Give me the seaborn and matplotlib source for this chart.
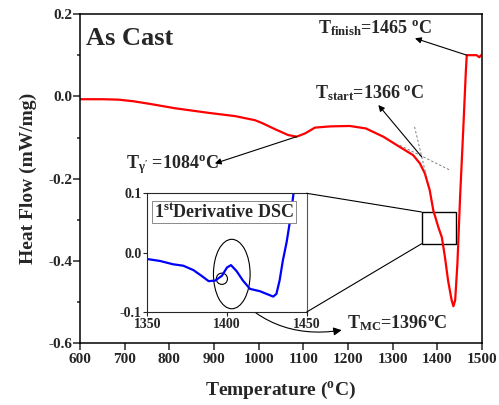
import numpy as np
import pandas as pd
import matplotlib
matplotlib.use("Agg")
import matplotlib.pyplot as plt
from matplotlib.patches import Ellipse, Rectangle, ConnectionPatch
import seaborn as sns

# DSC heat flow, as cast sample
temp = [600, 650, 686, 720, 760, 813, 887, 947, 992, 1010, 1037, 1066, 1085, 1104, 1126,
        1160, 1204, 1240, 1279, 1316, 1346, 1361, 1372, 1383, 1391, 1402, 1410, 1417,
        1424, 1432, 1436, 1440, 1445, 1451, 1458, 1464, 1466, 1488, 1494, 1498]
heat_flow = [-0.007, -0.007, -0.008, -0.012, -0.019, -0.029, -0.040, -0.048, -0.058, -0.066,
             -0.080, -0.094, -0.098, -0.090, -0.076, -0.073, -0.072, -0.078, -0.098,
             -0.123, -0.143, -0.163, -0.187, -0.228, -0.277, -0.317, -0.342, -0.390,
             -0.447, -0.495, -0.510, -0.495, -0.406, -0.244, -0.082, 0.064, 0.100,
             0.100, 0.095, 0.100]

# 1st derivative (inset)
temp_d = [1350.6, 1358, 1366, 1372.6, 1379, 1384, 1388.5, 1392.6, 1396.8, 1400, 1402.5,
          1406, 1410, 1414.4, 1420.7, 1429, 1431, 1433, 1435, 1437.5, 1439.5, 1441.6, 1443]
deriv = [-0.011, -0.014, -0.0195, -0.022, -0.0295, -0.039, -0.048, -0.047, -0.039, -0.025,
         -0.021, -0.031, -0.047, -0.061, -0.065, -0.074, -0.0695, -0.047, -0.014, 0.019,
         0.053, 0.097, 0.12]

# onset tangents
tan1_t, tan1_hf = [1316, 1428], [-0.119, -0.179]
tan2_t, tan2_hf = [1349, 1376], [-0.074, -0.196]

sns.set_style("ticks")
plt.rcParams["font.family"] = ["Liberation Serif", "DejaVu Serif"]
plt.rcParams["font.weight"] = "bold"
plt.rcParams["mathtext.default"] = "regular"
plt.rcParams["axes.unicode_minus"] = False

fig = plt.figure(figsize=(4.99, 4.05), dpi=100)
ax = fig.add_axes([0.1603, 0.1523, 0.8056, 0.8131])

df = pd.DataFrame({"T": temp, "HF": heat_flow})
sns.lineplot(data=df, x="T", y="HF", ax=ax, color="#ff0000", lw=1.6)
ax.plot(tan1_t, tan1_hf, ls="--", color="gray", lw=0.7, dashes=(2.5, 2))
ax.plot(tan2_t, tan2_hf, ls="--", color="gray", lw=0.7, dashes=(2.5, 2))

ax.set_xlim(600, 1500)
ax.set_ylim(-0.6, 0.2)
ax.set_xticks(np.arange(600, 1501, 100))
ax.set_yticks(np.arange(-0.6, 0.21, 0.2))
ax.set_yticks(np.arange(-0.5, 0.2, 0.2), minor=True)
ax.yaxis.set_major_formatter(matplotlib.ticker.FormatStrFormatter("%.1f"))
ax.tick_params(axis="both", which="major", labelsize=11, length=5, width=1.1, direction="out")
ax.tick_params(axis="y", which="minor", length=2.5, width=1.1, direction="out")
ax.tick_params(axis="y", pad=0.5)
ax.tick_params(axis="x", pad=2)
plt.setp(ax.get_xticklabels() + ax.get_yticklabels(), fontweight="bold")
for s in ax.spines.values():
    s.set_linewidth(1.1)
    s.set_color("black")
ax.set_xlabel(r"Temperature ($^{o}$C)", fontsize=14, fontweight="bold", labelpad=10)
ax.set_ylabel("Heat Flow (mW/mg)", fontsize=14, fontweight="bold", labelpad=8)

ax.text(613, 0.1246, "As Cast", fontsize=19, fontweight="bold")

arrow = dict(arrowstyle="-|>", color="black", lw=0.8, mutation_scale=9, shrinkA=0, shrinkB=0)
ax.text(1133, 0.153, r"T$_{finish}$=1465 $^{o}$C", fontsize=13)
ax.annotate("", xy=(1350, 0.141), xytext=(1466, 0.100), arrowprops=arrow)
ax.text(1126, -0.005, r"T$_{start}$=1366 $^{o}$C", fontsize=13)
ax.annotate("", xy=(1268, -0.021), xytext=(1365, -0.147), arrowprops=arrow)
ax.text(703, -0.175, r"T$_{γ'}$ =1084$^{o}$C", fontsize=13)
ax.annotate("", xy=(902, -0.163), xytext=(1085, -0.098), arrowprops=arrow)
ax.text(1197, -0.564, r"T$_{MC}$=1396$^{o}$C", fontsize=13)

# zoom box on main curve
ax.add_patch(Rectangle((1365, -0.358), 77, 0.077, fill=False, lw=1.0, ec="black"))

# inset
ins = fig.add_axes([0.2952, 0.2296, 0.3194, 0.2931])
sns.lineplot(x=temp_d, y=deriv, ax=ins, color="#0000ff", lw=1.6)
ins.set_xlim(1350, 1450)
ins.set_ylim(-0.1, 0.1)
ins.set_xticks([1350, 1400, 1450])
ins.set_yticks([-0.1, 0.0, 0.1])
ins.yaxis.set_major_formatter(matplotlib.ticker.FormatStrFormatter("%.1f"))
ins.tick_params(labelsize=10, length=3, width=0.8, pad=1)
plt.setp(ins.get_xticklabels() + ins.get_yticklabels(), fontweight="bold")
for s in ins.spines.values():
    s.set_linewidth(0.8)
ins.spines["right"].set_color("#555555")
ins.text(0.48, 0.845, r"1$^{st}$Derivative DSC", transform=ins.transAxes, ha="center",
         va="center", fontsize=13,
         bbox=dict(boxstyle="square,pad=0.1", fc="white", ec="#777777", lw=0.6))
ins.add_patch(Ellipse((1403, -0.036), 23, 0.117, fill=False, lw=0.8, ec="black"))
ins.add_patch(Ellipse((1396.8, -0.044), 7, 0.019, fill=False, lw=0.8, ec="black"))

ax.annotate("", xy=(1186, -0.568), xycoords=ax.transData,
            xytext=(1399, -0.051), textcoords=ins.transData,
            arrowprops=dict(arrowstyle="-|>", color="black", lw=0.8, mutation_scale=12,
                            shrinkA=0, shrinkB=0, connectionstyle="arc3,rad=0.3"))

for a, b in [((1, 1), (1365, -0.281)), ((1, 0), (1365, -0.358))]:
    fig.add_artist(ConnectionPatch(xyA=a, coordsA=ins.transAxes, xyB=b, coordsB=ax.transData,
                                   color="black", lw=0.8))

fig.savefig("out.png", dpi=100)
